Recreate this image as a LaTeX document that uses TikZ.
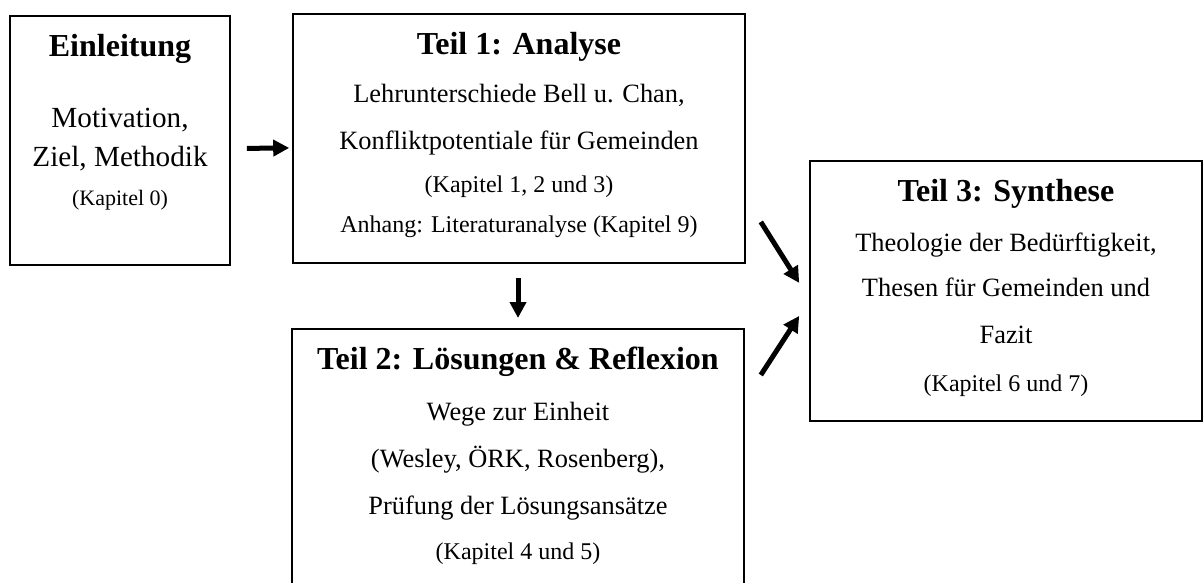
\documentclass[tikz,border=0pt]{standalone}
\usepackage{fontspec}
\setmainfont{Liberation Serif}
\usetikzlibrary{arrows.meta}

\newcommand{\titel}[1]{{\bfseries\fontsize{16}{19}\selectfont #1}}
\newcommand{\klein}[1]{{\fontsize{12}{14}\selectfont #1}}

\tikzset{
  teil/.style={draw, line width=0.8pt, anchor=north, align=center, inner ysep=9pt, inner xsep=0pt},
  pfeil/.style={-{Triangle[length=8pt, width=8pt]}, line width=2.5pt},
}

\begin{document}
\begin{tikzpicture}[x=0.5pt, y=-0.5pt]
  \useasboundingbox (0,0) rectangle (1204,583);

  \node[teil, minimum width=110pt, text depth=21pt, font=\fontsize{14.6}{19.5}\selectfont] (einl) at (120,15)
    {\titel{Einleitung}\\[16pt] Motivation,\\ Ziel, Methodik\\ {\fontsize{11}{13}\selectfont (Kapitel 0)}};
  \node[teil, minimum width=226pt, text depth=6.5pt, font=\fontsize{13.2}{20}\selectfont] (teil1) at (519,13)
    {\titel{Teil 1: Analyse}\\[4pt] Lehrunterschiede Bell u. Chan,\\[3.5pt] Konfliktpotentiale für Gemeinden\\[1.5pt]
     \klein{(Kapitel 1, 2 und 3)}\\ \klein{Anhang: Literaturanalyse (Kapitel 9)}};
  \node[teil, minimum width=226pt, text depth=22.5pt, font=\fontsize{13.2}{22.5}\selectfont] (teil2) at (518,328)
    {\titel{Teil 2: Lösungen \& Reflexion}\\[3pt] Wege zur Einheit\\[1pt] (Wesley, ÖRK, Rosenberg),\\[1pt]
     Prüfung der Lösungsansätze\\ \klein{(Kapitel 4 und 5)}};
  \node[teil, minimum width=196pt, text depth=6pt, font=\fontsize{13.2}{22.5}\selectfont] (synth) at (1006,160)
    {\titel{Teil 3: Synthese}\\[2.5pt] Theologie der Bedürftigkeit,\\ Thesen für Gemeinden und\\[1pt] Fazit\\[1.5pt]
     \klein{(Kapitel 6 und 7)}};

  % Pfeile zwischen den Teilen
  \draw[pfeil] ([shift={(16,8)}]einl.east) -- ([shift={(-3,9.5)}]teil1.west);
  \draw[pfeil] ([shift={(-1,14)}]teil1.south) -- ([shift={(0,-10)}]teil2.north);
  \draw[pfeil] ([shift={(15,83.5)}]teil1.east) -- ([shift={(-10,-8)}]synth.west);
  \draw[pfeil] ([shift={(16,47)}]teil2.north east) -- ([shift={(-10,25)}]synth.west);
\end{tikzpicture}
\end{document}
